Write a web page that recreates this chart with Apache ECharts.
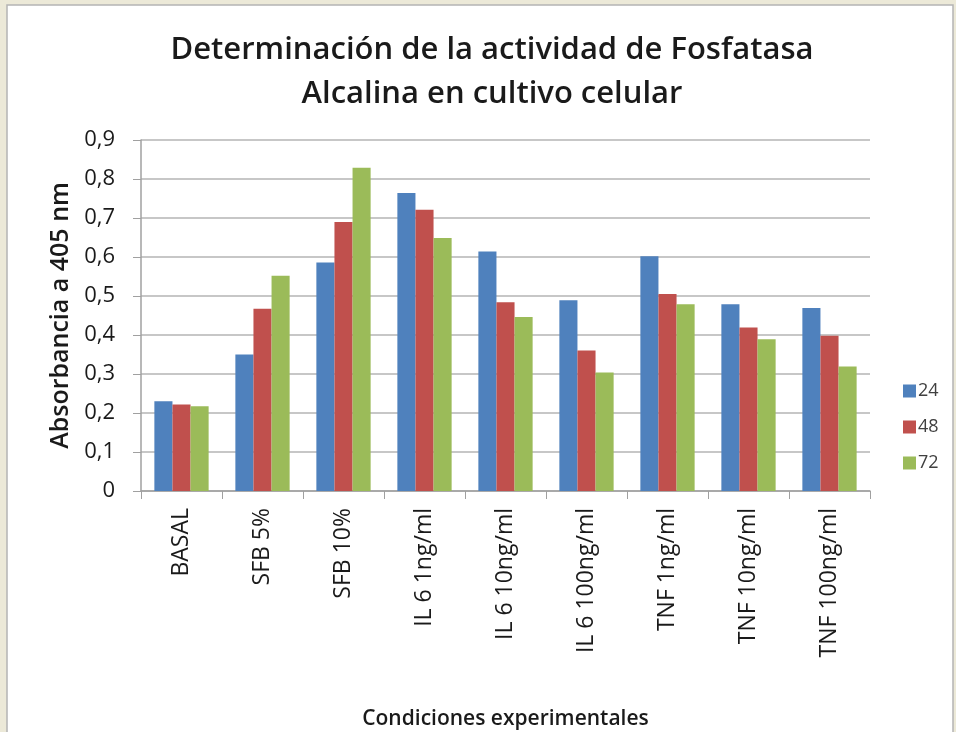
<!DOCTYPE html>
<html>
<head>
<meta charset="utf-8">
<script src="https://cdn.jsdelivr.net/npm/echarts@6/dist/echarts.min.js"></script>
<style>
  html, body { margin: 0; padding: 0; background: #ece9d8; }
  #chart { width: 956px; height: 732px; }
</style>
</head>
<body>
<div id="chart"></div>
<script>
// condiciones experimentales
const categories = ['BASAL', 'SFB 5%', 'SFB 10%', 'IL 6 1ng/ml', 'IL 6 10ng/ml', 'IL 6 100ng/ml', 'TNF 1ng/ml', 'TNF 10ng/ml', 'TNF 100ng/ml']
// absorbancia a 405 nm por tiempo (h)
const h24 = [0.23, 0.35, 0.586, 0.764, 0.614, 0.489, 0.602, 0.479, 0.469]
const h48 = [0.222, 0.467, 0.69, 0.721, 0.484, 0.36, 0.505, 0.419, 0.398]
const h72 = [0.217, 0.552, 0.829, 0.649, 0.446, 0.304, 0.479, 0.389, 0.319]
const seriesNames = ['24', '48', '72']
const colors = ['#4f81bd', '#c0504d', '#9bbb59']

let chart = echarts.init(document.getElementById('chart'))

let makeBar = (name, data, color) => ({
  name: name,
  type: 'bar',
  barGap: 0,
  barCategoryGap: '33%',
  itemStyle: { color: color },
  data: data
})

let option = {
  animation: false,
  backgroundColor: '#ece9d8',
  graphic: [{
    type: 'rect',
    shape: { x: 7, y: 5, width: 946, height: 740 },
    style: { fill: '#ffffff', stroke: '#b4b4b4', lineWidth: 1.5 },
    z: -10
  }],
  title: {
    text: 'Determinación de la actividad de Fosfatasa\nAlcalina en cultivo celular',
    left: 487,
    textAlign: 'center',
    top: 23,
    textStyle: {
      fontFamily: 'Open Sans',
      fontSize: 31,
      fontWeight: 600,
      color: '#1a1a1a',
      lineHeight: 44
    }
  },
  legend: {
    orient: 'vertical',
    left: 898,
    top: 377,
    itemWidth: 13,
    itemHeight: 13,
    itemGap: 18,
    icon: 'rect',
    data: seriesNames,
    textStyle: { fontFamily: 'Open Sans', fontSize: 18, color: '#404040', padding: [0, 0, 0, -3] }
  },
  grid: {
    left: 141,
    right: 86,
    top: 140,
    bottom: 241,
    outerBoundsMode: 'none'
  },
  xAxis: {
    type: 'category',
    data: categories,
    name: 'Condiciones experimentales',
    nameLocation: 'middle',
    nameGap: 218,
    nameTextStyle: { fontFamily: 'Open Sans', fontSize: 21, fontWeight: 600, color: '#1a1a1a' },
    axisLine: { lineStyle: { color: '#a0a0a0', width: 1.5 } },
    axisTick: { show: true, length: 8, lineStyle: { color: '#a0a0a0' } },
    axisLabel: {
      rotate: 90,
      margin: 17,
      fontFamily: 'Open Sans',
      fontSize: 23,
      color: '#1a1a1a'
    }
  },
  yAxis: {
    type: 'value',
    min: 0,
    max: 0.9,
    interval: 0.1,
    name: 'Absorbancia a 405 nm',
    nameLocation: 'middle',
    nameGap: 65,
    nameTextStyle: { fontFamily: 'Open Sans', fontSize: 25, fontWeight: 600, color: '#1a1a1a' },
    axisLine: { show: true, lineStyle: { color: '#a0a0a0', width: 1.5 } },
    axisTick: { show: true, length: 8, lineStyle: { color: '#a0a0a0' } },
    splitLine: { lineStyle: { color: '#b4b4b4', width: 1.5 } },
    axisLabel: {
      margin: 26,
      fontFamily: 'Open Sans',
      fontSize: 22,
      color: '#1a1a1a',
      formatter: (v) => (Math.round(v * 10) / 10).toString().replace('.', ',')
    }
  },
  series: [
    makeBar(seriesNames[0], h24, colors[0]),
    makeBar(seriesNames[1], h48, colors[1]),
    makeBar(seriesNames[2], h72, colors[2])
  ]
}
chart.setOption(option)
</script>
</body>
</html>
